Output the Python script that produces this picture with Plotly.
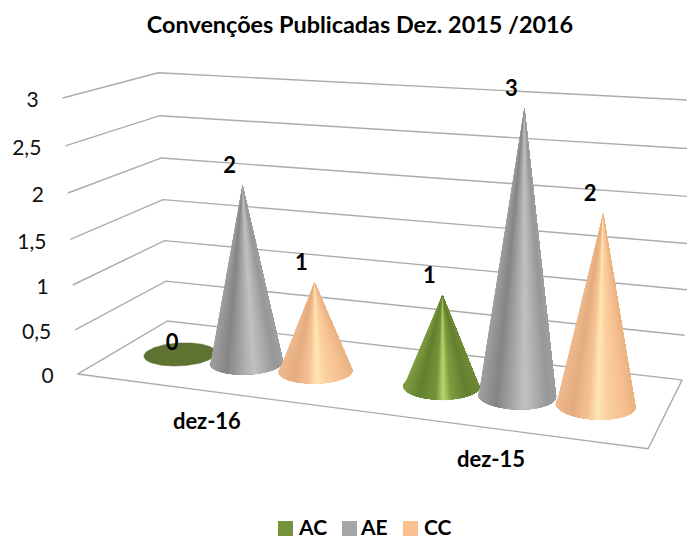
import numpy as np
import plotly.graph_objects as go

categories = ["dez-16", "dez-15"]
series_names = ["AC", "AE", "CC"]
AC = [0, 1]
AE = [2, 3]
CC = [1, 2]
tick_vals = [0, 0.5, 1, 1.5, 2, 2.5, 3]
tick_text = ["0", "0,5", "1", "1,5", "2", "2,5", "3"]

W, H = 695, 541
PAGE_MARGIN = 8  # the browser's default body margin
# oblique view of the 3D chart box: x in category bands, y in depth, z in value units
view = [243.37, 109.5, -5.9237, 77.568, 8.346, -15.487, -93.562, 374.06, -0.064612, 0.11699, -0.015789]
band, depth_mid, band_shift = 0.26706, 0.47875, 0.0030615
radius_x, radius_y = 0.13, 0.2


def proj(x, y, z):
    x, y, z = np.asarray(x, float), np.asarray(y, float), np.asarray(z, float)
    m = view
    w = m[8] * x + m[9] * y + m[10] * z + 1
    return (m[0] * x + m[1] * y + m[2] * z + m[3]) / w, (m[4] * x + m[5] * y + m[6] * z + m[7]) / w


# colour across each cone, from its left edge (-1) to its right edge (+1)
shading = {
    "AC": [(-1, "#7f9e42"), (-0.6, "#64802f"), (-0.15, "#75953a"), (0.05, "#b6d86e"), (0.25, "#7f9e42"), (0.7, "#64802f"), (1, "#6f8c35")],
    "AE": [(-1, "#a0a0a0"), (-0.55, "#858585"), (0.2, "#c2c2c2"), (0.8, "#989898"), (1, "#a0a0a0")],
    "CC": [(-1, "#eeba8f"), (-0.6, "#e5ad7f"), (-0.2, "#f6c294"), (0.05, "#ffe7b4"), (0.3, "#fcd09f"), (0.7, "#f7c193"), (1, "#eab482")],
}
flat_color = {"AC": "#5e7331", "AE": "#858585", "CC": "#e5ad7f"}
legend_color = {"AC": "#76933c", "AE": "#a6a6a6", "CC": "#fac090"}
frame_color = "#ababab"


def hex2rgb(h):
    return np.array([int(h[i:i + 2], 16) for i in (1, 3, 5)], float)


def shade_color(name, t):
    stops = shading[name]
    ts = [s[0] for s in stops]
    rgb = np.array([hex2rgb(s[1]) for s in stops])
    return "rgb(%d,%d,%d)" % tuple(np.interp(t, ts, rgb[:, i]) for i in range(3))


fig = go.Figure()


def frame_line(xs, ys, zs):
    a, b = proj(xs, ys, zs)
    fig.add_trace(go.Scatter(x=a, y=b, mode="lines", line=dict(color=frame_color, width=1.4), hoverinfo="skip", showlegend=False))


for v in tick_vals:
    frame_line([0, 0, 2], [0, 1, 1], [v] * 3)
frame_line([0, 2, 2], [0, 0, 1], [0, 0, 0])

th = np.linspace(0, 2 * np.pi, 180, endpoint=False)
for ci in range(len(categories)):
    for si, (name, vals) in enumerate(zip(series_names, [AC, AE, CC])):
        val = vals[ci]
        x0 = ci + 0.5 + band_shift + (si - 1) * band
        bx, by = proj(x0 + radius_x * np.cos(th), depth_mid + radius_y * np.sin(th), np.zeros_like(th))
        fig.add_trace(go.Scatter(x=np.append(bx, bx[0]), y=np.append(by, by[0]), mode="lines", fill="toself",
                                 fillcolor=flat_color[name], line=dict(color=flat_color[name], width=0.5),
                                 hoverinfo="skip", showlegend=False))
        if val == 0:
            continue
        ax_, ay_ = proj(x0, depth_mid, val)
        il, ir = int(np.argmin(bx)), int(np.argmax(bx))
        n = len(th)
        idx = [(il + k) % n for k in range(n)]
        if by[idx[n // 4]] < by[(il - n // 4) % n]:
            idx = [(il - k) % n for k in range(n)]
        idx = idx[: idx.index(ir) + 1]  # near side of the base, left to right
        xc, hw = (bx[il] + bx[ir]) / 2, (bx[ir] - bx[il]) / 2
        for k in range(0, len(idx) - 1):
            a, b = idx[k], idx[k + 1]
            col = shade_color(name, ((bx[a] + bx[b]) / 2 - xc) / hw)
            rest = idx[k:]
            fig.add_trace(go.Scatter(x=[ax_] + list(bx[rest]) + [ax_], y=[ay_] + list(by[rest]) + [ay_],
                                     mode="lines", fill="toself", fillcolor=col, line=dict(width=0),
                                     hoverinfo="skip", showlegend=False))


def text_trace(xs, ys, texts, size, pos="middle center", color="#000000", bold=True):
    fig.add_trace(go.Scatter(x=xs, y=ys, mode="text", text=["<b>%s</b>" % t if bold else t for t in texts], textposition=pos,
                             textfont=dict(family="Lato", size=size, color=color), hoverinfo="skip", showlegend=False))


tx, ty = proj(np.zeros(7), np.zeros(7), tick_vals)
text_trace(tx - 24, ty + 4, tick_text, 21, "middle left", "#111111", False)
cx_, cy_ = proj(np.arange(2) + 0.5, np.zeros(2), np.zeros(2))
text_trace(cx_ + 1, cy_ + 33, categories, 22)
for si, vals in enumerate([AC, AE, CC]):
    xv = np.arange(2) + 0.5 + band_shift + (si - 1) * band
    lx, ly = proj(xv, np.full(2, depth_mid), vals)
    off = np.array([0 if v else 5 for v in vals])
    off2 = np.array([18 if v else 10 for v in vals])
    text_trace(lx - 13 + off, ly - off2, [str(v) for v in vals], 22)

legend_x = [285.5, 349.5, 410.5]
legend_text_x = [299, 361, 424]
for name, lx, ltx in zip(series_names, legend_x, legend_text_x):
    fig.add_trace(go.Scatter(x=[lx], y=[528.5], mode="markers", marker=dict(symbol="square", size=15, color=legend_color[name], line=dict(width=0)),
                             hoverinfo="skip", showlegend=False))
    text_trace([ltx], [530], [name], 21, "middle right")

fig.update_layout(
    width=W - PAGE_MARGIN, height=H - PAGE_MARGIN, margin=dict(l=0, r=0, t=0, b=0), paper_bgcolor="white", plot_bgcolor="white", showlegend=False,
    title=dict(text="<b>Convenções Publicadas Dez. 2015 /2016</b>", x=(360 - PAGE_MARGIN) / (W - PAGE_MARGIN), xanchor="center",
               y=1 - (25 - PAGE_MARGIN) / (H - PAGE_MARGIN), yanchor="middle", font=dict(family="Lato", size=23.4, color="#000000")),
    xaxis=dict(visible=False, range=[PAGE_MARGIN, W], fixedrange=True),
    yaxis=dict(visible=False, range=[H, PAGE_MARGIN], fixedrange=True),
)
fig.write_html("out.html")
